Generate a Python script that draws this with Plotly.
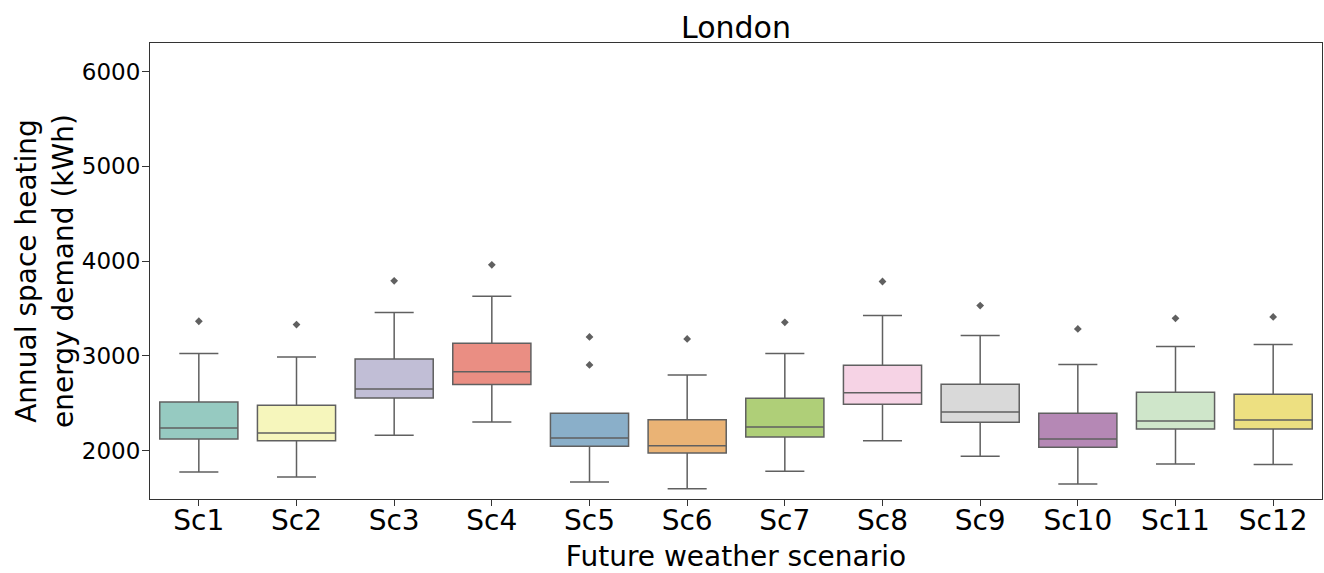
import colorsys
import plotly.graph_objects as go

categories = ["Sc1", "Sc2", "Sc3", "Sc4", "Sc5", "Sc6", "Sc7", "Sc8", "Sc9", "Sc10", "Sc11", "Sc12"]
lower_whisker = [1775, 1722, 2162, 2303, 1670, 1599, 1782, 2105, 1940, 1648, 1859, 1855]
q1_values = [2123, 2105, 2556, 2697, 2046, 1975, 2144, 2489, 2299, 2035, 2229, 2229]
median_values = [2239, 2187, 2651, 2831, 2134, 2053, 2250, 2612, 2408, 2123, 2313, 2324]
q3_values = [2514, 2478, 2968, 3133, 2394, 2327, 2552, 2901, 2700, 2394, 2616, 2594]
upper_whisker = [3024, 2989, 3456, 3629, 2394, 2799, 3024, 3425, 3214, 2908, 3098, 3119]
outlier_x = ["Sc1", "Sc2", "Sc3", "Sc4", "Sc5", "Sc5", "Sc6", "Sc7", "Sc8", "Sc9", "Sc10", "Sc11", "Sc12"]
outlier_y = [3365, 3330, 3791, 3960, 3200, 2904, 3179, 3354, 3784, 3530, 3284, 3396, 3411]
y_ticks = [2000, 3000, 4000, 5000, 6000]

set3 = ["#8dd3c7", "#ffffb3", "#bebada", "#fb8072", "#80b1d3", "#fdb462",
        "#b3de69", "#fccde5", "#d9d9d9", "#bc80bd", "#ccebc5", "#ffed6f"]


def desat(hexc, prop=0.75):
    r, g, b = (int(hexc[i:i + 2], 16) / 255 for i in (1, 3, 5))
    h, l, s = colorsys.rgb_to_hls(r, g, b)
    r, g, b = colorsys.hls_to_rgb(h, l, s * prop)
    return "#%02x%02x%02x" % (round(r * 255), round(g * 255), round(b * 255))


line_col = "#606060"
fig = go.Figure()
for i, c in enumerate(categories):
    fig.add_trace(go.Box(
        x=[c], q1=[q1_values[i]], median=[median_values[i]], q3=[q3_values[i]],
        lowerfence=[lower_whisker[i]], upperfence=[upper_whisker[i]],
        fillcolor=desat(set3[i]), line=dict(color=line_col, width=1.5),
        width=0.8, whiskerwidth=0.5, boxpoints=False, showlegend=False,
        hoverinfo="skip"))

fig.add_trace(go.Scatter(
    x=outlier_x, y=outlier_y, mode="markers",
    marker=dict(symbol="diamond", size=6, color=line_col),
    showlegend=False, hoverinfo="skip"))

font = "DejaVu Sans, Arial, sans-serif"
fig.update_layout(
    width=1324, height=573,
    margin=dict(l=150, r=2, t=43, b=74, autoexpand=False),
    paper_bgcolor="white", plot_bgcolor="white",
    font=dict(family=font, color="black", size=24),
    title=dict(text="London", x=0.5, xanchor="center", xref="paper",
               y=1 - 27 / 573, yref="container", yanchor="middle",
               font=dict(size=30), automargin=False),
    xaxis=dict(
        type="category", categoryorder="array", categoryarray=categories,
        range=[-0.5, 11.5], automargin=False,
        title=dict(text="Future weather scenario", font=dict(size=28), standoff=12),
        showline=True, linecolor="#333333", linewidth=1, mirror=True,
        ticks="outside", ticklen=6, tickcolor="#333333", showgrid=False,
        ticklabelstandoff=-10,
        tickfont=dict(size=28)),
    yaxis=dict(
        range=[1490, 6300], tickvals=y_ticks, automargin=False,
        title=dict(text="Annual space heating<br>energy demand (kWh)", font=dict(size=28), standoff=0),
        showline=True, linecolor="#333333", linewidth=1, mirror=True,
        ticks="outside", ticklen=7, tickcolor="#333333", showgrid=False,
        ticklabelstandoff=-3,
        zeroline=False, tickfont=dict(size=23)),
)

fig.write_html(
    "out.html",
    config={"displayModeBar": False},
    post_script="document.body.style.margin='0';document.body.style.overflow='hidden';",
)
